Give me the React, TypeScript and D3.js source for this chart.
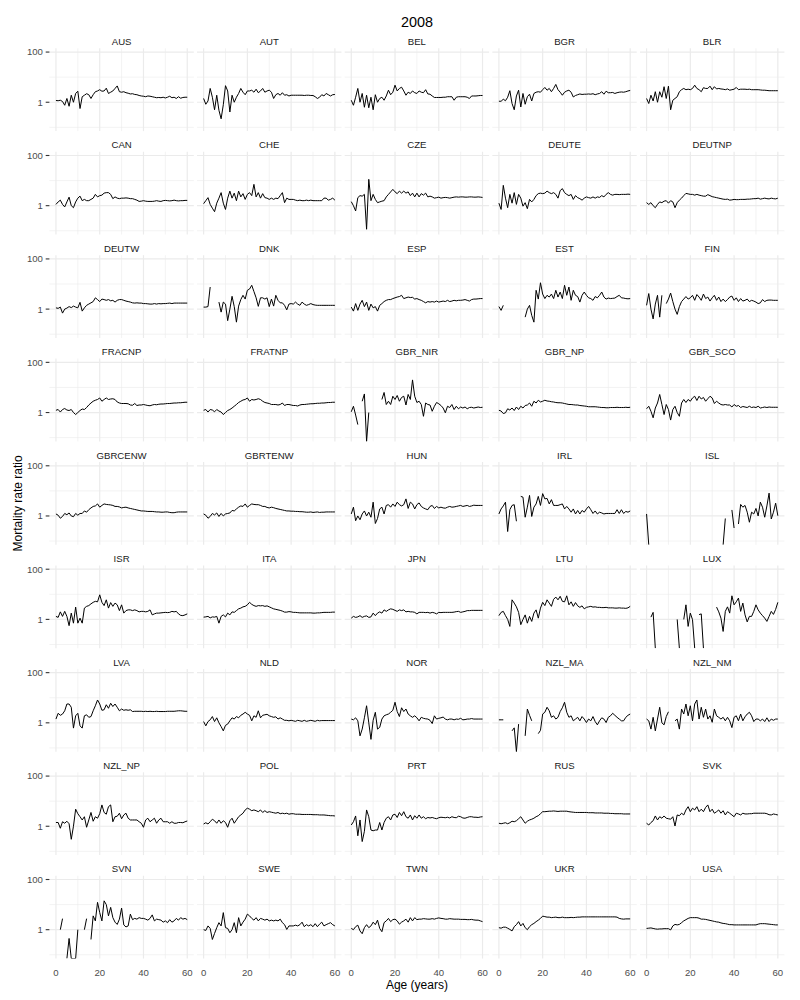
import React from "react";
import * as d3 from "d3";

// missing value (gap in the line)
const _ = null;
// ratio of exactly zero: log10 is -Inf, drawn on the panel floor
const O = -Infinity;

// log10 of the mortality rate ratio, one value per single year of age 0..60
const AUS = [.07,.06,.08,.03,-.12,.15,-.16,.28,0,.35, .44,-.25,.22,.28,.34,.3,.15,.3,.42,.45, .5,.44,.45,.56,.35,.4,.45,.55,.65,.42, .4,.42,.38,.36,.33,.34,.31,.3,.27,.25, .24,.22,.25,.24,.22,.2,.18,.19,.18,.2, .17,.2,.24,.18,.2,.15,.22,.16,.19,.2, .2];
const AUT = [.15,-.08,.05,.55,.2,-.3,.28,-.32,-.66,-.1, .66,.45,-.39,.28,0,.2,.35,.55,.4,.3, .45,.45,.48,.4,.52,.38,.45,.55,.4,.45, .48,.4,.15,.3,.35,.28,.38,.28,.3,.25, .28,.28,.28,.28,.28,.28,.27,.28,.28,.27, .27,.22,.15,.2,.3,.25,.35,.3,.25,.3, .31];
const BEL = [.08,-.12,.2,.55,0,.35,-.2,.28,-.22,.2, -.3,.3,0,.15,.2,.08,.25,.48,.3,.4, .68,.45,.55,.6,.45,.28,.4,.35,.45,.38, .35,.45,.4,.38,.5,.33,.32,.25,.19,.19, .19,.19,.2,.2,.22,.22,.22,.08,.2,.22, .22,.22,.22,.2,.15,.25,.25,.25,.26,.27, .27];
const BGR = [.04,.04,.12,.06,.2,.46,-.05,-.3,.25,.48, -.19,.35,-.08,.22,.32,.05,.35,.4,.42,.4, .5,.59,.48,.55,.42,.55,.71,.5,.4,.28, .4,.45,.48,.4,.21,.27,.3,.33,.31,.32, .32,.33,.32,.34,.3,.33,.35,.42,.32,.44, .38,.38,.39,.35,.38,.4,.41,.4,.42,.45, .47];
const BLR = [.15,-.05,.28,.05,.42,0,.42,.2,.62,.15, .64,-.3,.08,.15,.22,.42,.5,.55,.5,.52, .5,.55,.68,.55,.5,.42,.58,.55,.55,.64, .5,.62,.53,.55,.53,.52,.5,.53,.48,.5, .52,.59,.5,.52,.52,.52,.51,.52,.5,.5, .5,.5,.49,.48,.48,.47,.46,.46,.46,.46, .46];
const CAN = [.05,.15,.22,.05,-.05,.15,.34,0,-.08,.15, .3,.38,.2,.25,.2,.2,.25,.3,.45,.35, .4,.42,.5,.52,.52,.45,.28,.35,.3,.28, .3,.3,.31,.3,.28,.28,.25,.22,.17,.18, .2,.18,.17,.17,.17,.18,.2,.18,.17,.2, .21,.2,.19,.2,.22,.2,.19,.2,.2,.21, .21];
const CHE = [.08,.2,.32,.05,-.1,-.24,.1,.3,.52,.1, -.15,.3,.58,.3,.5,.2,.58,.35,.48,.25, .45,.52,.4,.85,.35,.52,.3,.48,.32,.3, .25,.3,.25,.3,.28,.4,.52,.12,.3,.25, .25,.25,.22,.2,.22,.2,.2,.22,.2,.22, .2,.2,.2,.2,.2,.3,.3,.22,.25,.3, .22];
const CZE = [.16,0,-.21,.32,.4,.38,.45,-.94,1.05,.2, .45,.25,.12,.15,.18,.2,.35,.45,.55,.65, .55,.48,.58,.5,.58,.5,.55,.4,.5,.35, .5,.35,.48,.42,.5,.35,.38,.35,.3,.32, .34,.3,.32,.33,.32,.3,.32,.34,.35,.34, .35,.35,.34,.34,.35,.35,.34,.34,.35,.34, .33];
const DEUTE = [.1,-.15,.81,.3,-.08,.45,.1,.52,.05,.45, .3,-.02,.12,-.12,.25,.15,.25,.4,.48,.5, .48,.5,.58,.52,.48,.52,.45,.3,.6,.68, .52,.45,.4,.45,.25,.4,.32,.28,.22,.3, .35,.32,.3,.35,.3,.35,.33,.4,.35,.45, .52,.45,.42,.45,.45,.44,.45,.45,.45,.46, .45];
const DEUTNP = [.12,.05,.12,0,-.08,.05,.15,.12,.18,.2, .1,.2,.15,-.08,.12,.22,.3,.4,.49,.47, .45,.45,.42,.45,.42,.4,.38,.38,.44,.4, .36,.34,.32,.3,.28,.26,.25,.26,.22,.23, .25,.24,.24,.25,.25,.25,.26,.26,.27,.28, .28,.3,.26,.28,.3,.28,.27,.3,.28,.27, .3];
const DEUTW = [.05,.03,.08,-.16,0,.04,.1,.06,.12,.08, .05,.27,-.08,.05,.15,.2,.25,.3,.45,.38, .3,.4,.38,.35,.38,.33,.35,.28,.35,.38, .38,.35,.32,.3,.28,.25,.24,.25,.24,.24, .22,.22,.21,.2,.2,.22,.2,.22,.21,.22, .22,.23,.24,.22,.24,.24,.24,.24,.24,.24, .24];
const DNK = [.08,.08,.1,.88,_,_,_,.28,-.12,.28, .2,-.46,0,.51,.1,-.52,.12,.38,.55,.4, .75,.8,.95,.7,.45,.11,.45,.45,.4,.45, .1,.4,.12,.55,.35,.25,.25,.15,-.03,.2, .22,.2,.28,.2,.15,.28,.2,.15,.18,.22, .18,.16,.15,.15,.15,.15,.15,.15,.15,.15, .15];
const ESP = [.08,-.08,.22,-.05,.2,.35,.1,.28,-.05,.2, .05,.1,-.08,.15,.22,.3,.35,.38,.38,.42, .45,.48,.5,.55,.42,.45,.48,.46,.47,.4, .42,.38,.35,.3,.25,.3,.28,.3,.28,.32, .28,.3,.32,.3,.35,.3,.32,.35,.33,.35, .35,.36,.38,.35,.32,.38,.4,.4,.41,.42, .42];
const EST = [.1,-.05,.15,_,_,_,_,_,_,_, _,_,-.32,0,.15,-.25,-.52,.75,.4,1.05, .6,.42,.55,.48,.6,.42,.75,.48,.68,.42, .95,.55,.88,.35,.75,.55,.5,.28,.55,.68, .55,.45,.42,.35,.5,.45,.55,.68,.48,.4, .44,.42,.43,.44,.5,.55,.45,.44,.42,.41, .42];
const FIN = [.15,.62,0,-.39,.2,.55,-.32,.55,_,.22, .4,.64,.3,0,-.21,.1,.3,.4,.5,.4, .45,.55,.35,.58,.48,.35,.6,.42,.48,.32, .45,.55,.35,.48,.3,.4,.3,.38,.48,.52, .35,.45,.3,.42,.32,.35,.4,.3,.35,.32, .28,.22,.25,.38,.3,.35,.36,.36,.35,.35, .35];
const FRACNP = [.09,.12,.02,.12,.16,.1,.08,.12,0,-.08, 0,.08,.14,.12,.2,.3,.38,.45,.49,.52, .58,.45,.52,.58,.52,.54,.55,.52,.42,.38, .36,.36,.36,.35,.3,.29,.36,.28,.3,.3, .32,.3,.28,.27,.3,.32,.31,.33,.34,.34, .35,.36,.36,.37,.38,.38,.39,.39,.4,.41, .41];
const FRATNP = [.09,.12,.02,.12,.1,.03,.12,.06,.02,-.08, 0,.08,.12,.18,.25,.32,.4,.45,.5,.52, .58,.45,.52,.5,.52,.55,.52,.45,.4,.38, .36,.32,.32,.32,.3,.32,.38,.28,.32,.32, .3,.28,.28,.26,.3,.32,.32,.33,.34,.35, .35,.36,.37,.37,.38,.38,.39,.4,.4,.41, .41];
const GBR_NIR = [.03,.25,-.1,-.48,_,.45,.74,O,0,_, _,_,_,_,.52,.8,.32,.45,.32,.65, .52,.68,.45,.6,.65,.3,.72,.52,1.3,.65, .4,.45,.32,-.15,.38,.32,.3,.05,.25,.4, .35,.28,.18,-.01,.25,.2,.32,.12,.25,.15, .22,.18,.22,.15,.2,.21,.18,.2,.22,.2, .21];
const GBR_NP = [.09,.06,-.04,-.01,.15,.1,.18,.08,.22,.12, .25,.18,.28,.3,.38,.25,.45,.38,.49,.42, .45,.49,.46,.45,.43,.42,.4,.39,.39,.38, .36,.34,.32,.32,.31,.3,.3,.28,.27,.26, .25,.23,.23,.23,.23,.22,.21,.2,.2,.19, .19,.2,.2,.2,.21,.2,.2,.2,.21,.2, .21];
const GBR_SCO = [.15,.25,.05,-.21,.18,.38,.72,.32,-.08,.32, .12,-.3,.12,.25,0,-.15,.38,.52,.4,.52, .45,.58,.65,.48,.65,.54,.6,.45,.55,.65, .58,.36,.45,.38,.32,.3,.32,.3,.3,.22, .32,.25,.28,.2,.24,.22,.2,.25,.2,.22, .2,.25,.18,.2,.22,.2,.22,.21,.21,.21, .21];
const GBRCENW = [.08,.03,-.09,-.02,.1,.05,.12,0,-.03,.1, .03,.1,.1,.2,.15,.25,.32,.38,.4,.48, .35,.42,.48,.46,.45,.44,.42,.38,.38,.36, .32,.34,.35,.32,.3,.28,.26,.24,.22,.2, .2,.19,.18,.18,.18,.17,.16,.16,.15,.15, .16,.16,.14,.13,.13,.15,.16,.16,.16,.16, .16];
const GBRTENW = [.08,.03,-.09,-.02,.1,.04,.12,-.02,.1,0, .08,.1,.12,.22,.2,.28,.35,.4,.38,.48, .35,.42,.48,.46,.45,.45,.42,.38,.38,.34, .32,.35,.33,.3,.28,.26,.24,.22,.2,.2, .19,.19,.18,.18,.17,.17,.16,.15,.15,.16, .14,.15,.16,.14,.15,.15,.16,.16,.16,.16, .16];
const HUN = [.08,.35,-.19,0,-.15,.08,.2,0,.15,-.05, .55,-.3,-.1,.28,.35,.08,.42,.45,.35,.48, .38,.55,.45,.4,.45,.68,.3,.55,.48,.28, .45,.52,.38,.32,.28,.25,.38,.42,.3,.38, .32,.35,.32,.31,.35,.38,.35,.36,.38,.4, .42,.38,.4,.42,.38,.4,.43,.42,.42,.42, .42];
const IRL = [.08,.28,.4,.55,-.62,.25,.42,.45,-.21,_, .78,.75,-.05,.35,.82,-.02,.35,.48,.78,.42, .89,.68,.7,.48,.65,.42,.42,.42,.45,.48, .28,.38,.28,.15,.28,.08,.22,.08,.22,.15, .28,.38,.25,.1,.2,.08,.15,.12,.08,.1, .1,.1,.1,.1,.25,.1,.25,.1,.18,.15, .2];
const ISL = [.08,O,_,_,_,_,_,_,_,_, _,_,_,_,_,_,_,_,_,_, _,_,_,_,_,_,_,_,_,_, _,_,_,_,_,O,-.1,_,_,.24, -.48,_,-.32,.46,.35,.42,.15,-.25,.15,.08, .3,0,.55,.35,-.05,.4,.91,-.12,.15,.51, .01];
const ISR = [.12,.08,.3,.12,.32,.12,-.25,.25,-.15,.49, -.15,.05,-.15,.45,.52,.55,.62,.68,.72,.7, .98,.68,.55,.78,.45,.67,.52,.65,.58,.35, .58,.25,.35,.38,.38,.35,.38,.35,.3,.32, .32,.3,.32,.38,.18,.22,.25,.25,.26,.27, .28,.27,.28,.32,.3,.32,.22,.16,.15,.18, .22];
const ITA = [.09,.1,.12,.06,.1,.09,.12,-.15,.12,.18, .1,.25,.18,.3,.28,.35,.42,.45,.5,.52, .58,.68,.6,.55,.52,.55,.54,.55,.52,.54, .5,.46,.42,.4,.38,.36,.33,.29,.29,.31, .3,.28,.28,.27,.26,.26,.26,.26,.26,.26, .25,.25,.26,.26,.27,.28,.28,.28,.28,.29, .29];
const JPN = [.05,.12,.08,.1,.15,.08,.12,.14,.08,.1, .25,.15,.25,.3,.25,.38,.32,.38,.42,.4, .36,.32,.38,.35,.38,.3,.32,.3,.3,.28, .22,.28,.28,.28,.27,.28,.25,.28,.26,.22, .28,.27,.28,.28,.28,.28,.28,.29,.31,.32, .28,.3,.32,.35,.35,.36,.36,.36,.36,.36, .36];
const LTU = [.15,.28,.32,.15,0,-.28,.78,.65,.5,.28, -.21,0,.18,-.15,.12,-.08,.25,.38,.05,.45, .68,.55,.78,.65,.52,.8,.89,.78,.92,.72, .7,.94,.58,.7,.52,.67,.54,.48,.54,.42, .48,.5,.52,.49,.5,.48,.48,.47,.47,.48, .46,.46,.46,.45,.45,.46,.45,.45,.44,.46, .52];
const LUX = [_,_,.09,.28,O,_,_,_,_,_, _,_,_,_,0,O,_,0,.58,-.28, .25,-.01,O,_,.19,.22,O,_,_,_, _,_,.49,.3,.05,-.48,.32,.5,.25,.94, .58,.7,.85,.32,.65,.18,-.1,.12,.12,.32, .58,.38,.25,.15,.05,-.08,.12,.32,.2,.4, .68];
const LVA = [.15,.38,.3,.35,.48,.75,.75,.62,-.21,.28, .38,-.12,-.21,.28,.32,.22,.25,.48,.68,.91, .75,.5,.52,.72,.58,.78,.65,.75,.62,.48, .55,.5,.52,.5,.52,.45,.46,.46,.46,.46, .45,.46,.45,.46,.45,.45,.46,.45,.45,.45, .45,.46,.46,.46,.46,.47,.48,.48,.47,.46, .46];
const NLD = [.05,-.12,.05,.12,.25,.05,.2,0,-.15,-.32, -.1,-.05,.08,.2,.15,.25,.2,.3,.35,.42, .35,.3,.08,.28,.22,.48,.2,.3,.32,.34, .28,.25,.22,.24,.15,.2,.15,.1,.1,.08, .1,.08,.06,.1,.08,.06,.1,.06,.08,.1, .08,.06,.1,.08,.09,.09,.09,.09,.09,.09, .09];
const NOR = [.15,.12,.2,.08,-.52,-.25,.2,.68,0,-.66, .1,.42,-.25,-.18,.15,.28,.32,.35,.42,.5, .82,.45,.25,.6,.45,.55,.35,.28,.22,.28, .2,.08,.22,.18,.16,.15,.1,-.03,.28,.15, .18,.2,.23,.15,.12,.15,.15,.12,.15,.14, .18,.12,.13,.15,.15,.17,.15,.15,.15,.15, .15];
const NZL_MA = [.12,.12,.12,_,_,_,-.32,-.2,O,-.05, _,_,-.52,.55,.3,.08,_,_,-.43,-.3, .35,.42,.62,.48,.22,.28,.15,.22,.45,.6, .82,.42,.22,.28,.08,.15,.22,.08,.25,.15, .01,.15,.08,.25,.05,-.08,.08,.2,.15,.01, .22,.28,.38,.3,.22,.15,.08,.08,.22,.3, .35];
const NZL_NM = [.15,.08,-.25,.22,-.32,.15,.62,0,-.08,.25, .44,_,_,.08,.15,-.25,.55,.35,.75,.28, .68,.08,.75,.91,.15,.62,.22,.55,.15,.28, .02,.55,.28,.22,.15,.22,.08,.22,.08,-.19, .22,.28,.08,.35,.08,.24,.35,.42,.28,.05, .15,.15,.08,.15,.05,.2,.05,.15,.1,.15, .15];
const NZL_NP = [.15,.15,-.08,.18,.12,.2,.1,-.52,0,.68, .5,.38,.25,.38,-.04,.25,.55,.2,.38,.32, .5,.85,.55,.48,.78,.85,.18,.38,.4,.52, .3,.45,.52,.32,.25,.25,.25,.25,.18,.12, -.04,.25,.32,.18,.25,.32,.12,.25,.32,.18, .18,.18,.12,.18,.12,.12,.15,.15,.14,.18, .21];
const POL = [.09,.14,.09,.18,.28,.22,.12,.25,.12,.22, .15,-.04,.22,.32,.12,.25,.38,.45,.52,.65, .72,.68,.62,.65,.62,.58,.65,.55,.62,.55, .58,.56,.54,.52,.55,.5,.52,.5,.52,.48, .5,.5,.48,.48,.48,.47,.47,.47,.47,.47, .46,.46,.46,.45,.45,.45,.44,.43,.42,.42, .41];
const PRT = [.05,.18,.41,-.38,.25,-.61,-.2,.65,.38,-.15, -.18,-.15,-.15,.15,-.15,.15,.32,.38,.25,.45, .48,.35,.55,.42,.58,.38,.32,.45,.25,.42, .32,.45,.32,.38,.3,.35,.33,.35,.32,.3, .34,.36,.35,.34,.36,.33,.38,.35,.34,.4, .38,.33,.32,.35,.38,.38,.36,.36,.35,.37, .38];
const RUS = [.12,.1,.12,.14,.1,.14,.2,.18,.22,.3, .38,.25,.12,.2,.25,.28,.32,.38,.42,.5, .58,.58,.59,.6,.6,.61,.6,.59,.6,.6, .6,.6,.58,.57,.56,.55,.55,.55,.55,.55, .55,.54,.54,.54,.53,.53,.53,.53,.52,.52, .52,.51,.51,.5,.5,.5,.5,.49,.49,.49, .49];
const SVK = [.12,.05,.15,.22,.41,.25,.38,.32,.41,.32, .3,.28,.38,.01,.45,.42,.52,.45,.65,.78, .58,.72,.65,.78,.58,.68,.58,.75,.85,.58, .68,.52,.58,.65,.52,.62,.45,.58,.52,.45, .38,.52,.49,.45,.52,.49,.49,.5,.5,.52, .52,.52,.52,.52,.52,.5,.46,.45,.49,.47, .45];
const SVN = [_,_,0,.44,_,O,-.35,O,O,O, 0,_,_,0,.44,_,-.39,.55,.35,1.09, .68,.35,1.15,1.0,.55,.89,.48,.3,.21,.42, .86,.19,.11,.15,.62,.4,.45,.42,.48,.45, .45,.42,.38,.45,.59,.35,.42,.4,.38,.3, .35,.28,.4,.3,.35,.45,.38,.48,.42,.45, .4];
const SWE = [0,-.03,.15,.05,-.39,-.15,.08,.28,.15,.68, .08,.05,-.12,0,.28,-.12,.48,.15,.3,.42, .62,.55,.45,.38,.48,.35,.45,.42,.38,.42, .35,.38,.35,.38,.35,.42,.28,.2,.01,.15, .15,.15,.18,.15,.2,.3,.12,.2,.15,.2, .12,.24,.12,.22,.3,.15,.2,.24,.28,.2, .15];
const TWN = [.05,0,.12,.18,-.05,-.16,.08,.2,.08,.15, .3,.2,.38,.05,-.08,.28,.35,.45,.32,.4, .42,.35,.22,.3,.35,.42,.3,.48,.35,.48, .4,.42,.42,.44,.43,.42,.42,.44,.42,.45, .47,.45,.44,.42,.42,.44,.43,.42,.42,.42, .41,.41,.41,.4,.4,.41,.39,.38,.38,.35, .32];
const UKR = [.08,.06,.1,.1,.06,.01,-.05,.12,.2,.32, .15,.25,.08,0,.12,.2,.25,.32,.38,.45, .54,.52,.5,.5,.48,.49,.5,.48,.48,.5, .48,.48,.48,.49,.48,.49,.5,.5,.51,.51, .51,.51,.51,.51,.51,.51,.51,.51,.51,.51, .51,.51,.51,.51,.5,.45,.43,.42,.43,.43, .43];
const USA = [.05,.06,.07,.05,.03,.02,.03,.03,.04,.04, .04,-.01,.15,.21,.19,.21,.28,.35,.4,.45, .48,.48,.48,.48,.46,.42,.42,.41,.39,.37, .35,.33,.31,.3,.27,.25,.24,.22,.2,.2, .19,.19,.19,.19,.19,.19,.19,.19,.19,.19, .19,.22,.24,.24,.24,.23,.22,.21,.2,.19, .19];

const COUNTRIES = [
  "AUS", "AUT", "BEL", "BGR", "BLR",
  "CAN", "CHE", "CZE", "DEUTE", "DEUTNP",
  "DEUTW", "DNK", "ESP", "EST", "FIN",
  "FRACNP", "FRATNP", "GBR_NIR", "GBR_NP", "GBR_SCO",
  "GBRCENW", "GBRTENW", "HUN", "IRL", "ISL",
  "ISR", "ITA", "JPN", "LTU", "LUX",
  "LVA", "NLD", "NOR", "NZL_MA", "NZL_NM",
  "NZL_NP", "POL", "PRT", "RUS", "SVK",
  "SVN", "SWE", "TWN", "UKR", "USA",
];

const SERIES: Record<string, (number | null)[]> = {
  AUS, AUT, BEL, BGR, BLR, CAN, CHE, CZE, DEUTE, DEUTNP,
  DEUTW, DNK, ESP, EST, FIN, FRACNP, FRATNP, GBR_NIR, GBR_NP, GBR_SCO,
  GBRCENW, GBRTENW, HUN, IRL, ISL, ISR, ITA, JPN, LTU, LUX,
  LVA, NLD, NOR, NZL_MA, NZL_NM, NZL_NP, POL, PRT, RUS, SVK,
  SVN, SWE, TWN, UKR, USA,
};

const FIRST_AGE = 0;
const X_TICKS = [0, 20, 40, 60];
const X_MINOR = [10, 30, 50];
const Y_TICKS = [1, 100];
const Y_TICK_LABELS = ["1", "100"];
const Y_MINOR = [0.1, 10];
const TITLE = "2008";
const X_TITLE = "Age (years)";
const Y_TITLE = "Mortality rate ratio";

// layout
const W = 800;
const H = 1000;
const NCOL = 5;
const NROW = 9;
const LEFT = 49.4;
const TOP = 48.3;
const PANEL_W = 144.4;
const PANEL_H = 82.8;
const COL_STEP = 147.65;
const ROW_STEP = 103.43;
const FONT = "'Liberation Sans', Arial, Helvetica, sans-serif";

type Pt = { age: number; r: number | null };

export default function App() {
  const x = d3.scaleLinear().domain([-3, 63]).range([0, PANEL_W]);
  // y limits 0.1..100 with ggplot's 5% expansion in log space
  const y = d3.scaleLog().domain([10 ** -1.15, 10 ** 2.15]).range([PANEL_H, 0]);

  const line = d3
    .line<Pt>()
    .defined((d) => d.r !== null)
    .x((d) => x(d.age))
    .y((d) => ((d.r as number) > 0 ? y(d.r as number) : PANEL_H));

  const toPoints = (vals: (number | null)[]): Pt[] =>
    vals.map((v, i) => ({ age: FIRST_AGE + i, r: v === null ? null : Math.pow(10, v) }));

  const plotMidX = LEFT + ((NCOL - 1) * COL_STEP + PANEL_W) / 2;
  const plotMidY = TOP + ((NROW - 1) * ROW_STEP + PANEL_H) / 2;
  const bottomY = TOP + (NROW - 1) * ROW_STEP + PANEL_H;

  return (
    <div style={{ position: "absolute", left: 0, top: 0 }}>
      <svg width={W} height={H} style={{ display: "block", background: "#fff" }} fontFamily={FONT}>
        <defs>
          <clipPath id="panel-clip">
            <rect x={0} y={0} width={PANEL_W} height={PANEL_H} />
          </clipPath>
        </defs>

        <text x={plotMidX} y={27} textAnchor="middle" fontSize={14.4} fill="#000">
          {TITLE}
        </text>

        {COUNTRIES.map((name, k) => {
          const col = k % NCOL;
          const row = Math.floor(k / NCOL);
          const px = LEFT + col * COL_STEP;
          const py = TOP + row * ROW_STEP;
          const pts = toPoints(SERIES[name]);
          return (
            <g key={name} transform={`translate(${px},${py})`}>
              {Y_MINOR.map((t) => (
                <line key={"ym" + t} x1={0} x2={PANEL_W} y1={y(t)} y2={y(t)} stroke="#ebebeb" strokeWidth={0.6} />
              ))}
              {X_MINOR.map((t) => (
                <line key={"xm" + t} x1={x(t)} x2={x(t)} y1={0} y2={PANEL_H} stroke="#ebebeb" strokeWidth={0.6} />
              ))}
              {Y_TICKS.map((t) => (
                <line key={"y" + t} x1={0} x2={PANEL_W} y1={y(t)} y2={y(t)} stroke="#ebebeb" strokeWidth={1.2} />
              ))}
              {X_TICKS.map((t) => (
                <line key={"x" + t} x1={x(t)} x2={x(t)} y1={0} y2={PANEL_H} stroke="#ebebeb" strokeWidth={1.2} />
              ))}

              <text x={PANEL_W / 2} y={-3.3} textAnchor="middle" fontSize={9.6} fill="#1a1a1a">
                {name}
              </text>

              <path
                d={line(pts) ?? ""}
                fill="none"
                stroke="#000"
                strokeWidth={1}
                strokeLinejoin="round"
                clipPath="url(#panel-clip)"
              />

              {col === 0 &&
                Y_TICKS.map((t, i) => (
                  <g key={"yt" + t} transform={`translate(0,${y(t)})`}>
                    <line x1={-3.7} x2={0} stroke="#333" strokeWidth={1.1} />
                    <text x={-6.5} dy={3.4} textAnchor="end" fontSize={9.6} fill="#4d4d4d">
                      {Y_TICK_LABELS[i]}
                    </text>
                  </g>
                ))}

              {row === NROW - 1 &&
                X_TICKS.map((t) => (
                  <text key={"xt" + t} x={x(t)} y={PANEL_H + 17} textAnchor="middle" fontSize={9.6} fill="#4d4d4d">
                    {t}
                  </text>
                ))}
            </g>
          );
        })}

        <text x={plotMidX} y={bottomY + 30.5} textAnchor="middle" fontSize={12} fill="#000">
          {X_TITLE}
        </text>
        <text
          transform={`translate(22,${plotMidY}) rotate(-90)`}
          textAnchor="middle"
          fontSize={12}
          fill="#000"
        >
          {Y_TITLE}
        </text>
      </svg>
    </div>
  );
}
